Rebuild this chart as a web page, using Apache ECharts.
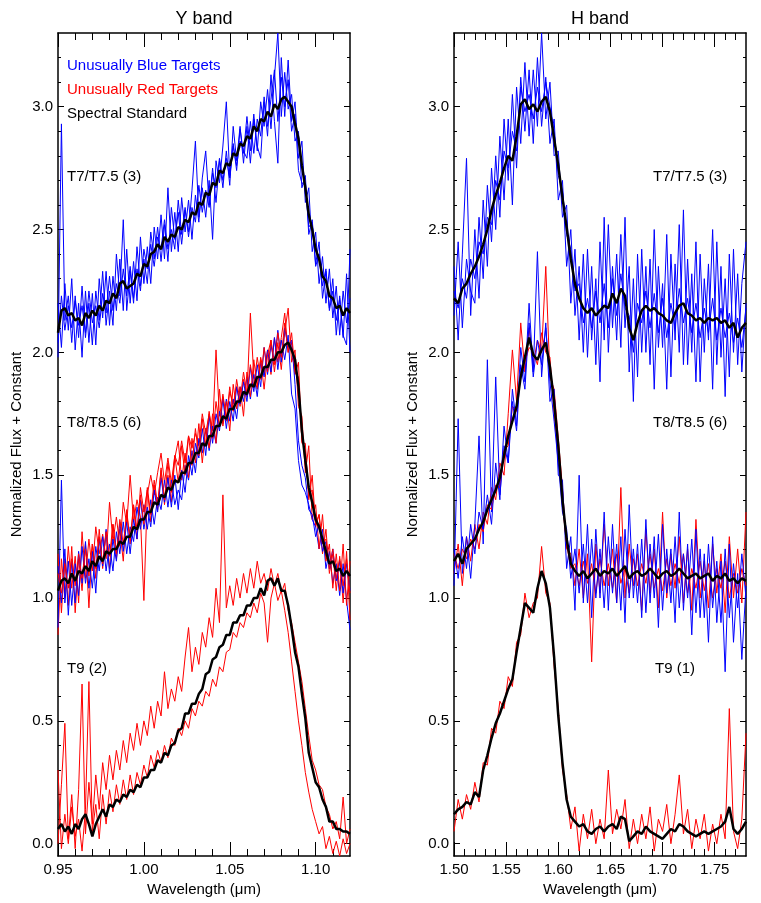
<!DOCTYPE html>
<html><head><meta charset="utf-8">
<script src="https://cdn.jsdelivr.net/npm/echarts@6/dist/echarts.min.js"></script>
<style>html,body{margin:0;padding:0;background:#fff}#c{width:761px;height:903px}</style>
</head><body><div id="c"></div>
<script>
// ---- wavelength grids (microns) ----
const yWave=[0.950,0.952,0.954,0.956,0.958,0.960,0.962,0.964,0.966,0.968,
0.970,0.972,0.974,0.976,0.978,0.980,0.982,0.984,0.986,0.988,
0.990,0.992,0.994,0.996,0.998,1.000,1.002,1.004,1.006,1.008,
1.010,1.012,1.014,1.016,1.018,1.020,1.022,1.024,1.026,1.028,
1.030,1.032,1.034,1.036,1.038,1.040,1.042,1.044,1.046,1.048,
1.050,1.052,1.054,1.056,1.058,1.060,1.062,1.064,1.066,1.068,
1.070,1.072,1.074,1.076,1.078,1.080,1.082,1.084,1.086,1.088,
1.090,1.092,1.094,1.096,1.098,1.100,1.102,1.104,1.106,1.108,
1.110,1.112,1.114,1.116,1.118,1.120];
const hWave=[1.500,1.504,1.508,1.512,1.516,1.520,1.524,1.528,1.532,1.536,
1.540,1.544,1.548,1.552,1.556,1.560,1.564,1.568,1.572,1.576,
1.580,1.584,1.588,1.592,1.596,1.600,1.604,1.608,1.612,1.616,
1.620,1.624,1.628,1.632,1.636,1.640,1.644,1.648,1.652,1.656,
1.660,1.664,1.668,1.672,1.676,1.680,1.684,1.688,1.692,1.696,
1.700,1.704,1.708,1.712,1.716,1.720,1.724,1.728,1.732,1.736,
1.740,1.744,1.748,1.752,1.756,1.760,1.764,1.768,1.772,1.776,
1.780];

// ---- Y band spectra ----
const yT7Std=[2.08,2.17,2.18,2.15,2.16,2.13,2.14,2.11,2.16,2.14,
2.17,2.15,2.19,2.17,2.21,2.20,2.24,2.22,2.28,2.29,
2.26,2.27,2.28,2.32,2.31,2.36,2.35,2.40,2.41,2.44,
2.42,2.47,2.45,2.48,2.47,2.51,2.50,2.54,2.53,2.57,
2.56,2.61,2.60,2.65,2.64,2.69,2.68,2.74,2.73,2.77,
2.76,2.81,2.80,2.85,2.84,2.88,2.87,2.92,2.90,2.95,
2.94,2.98,2.96,3.01,2.99,3.03,3.04,3.02,3.00,2.93,
2.87,2.76,2.67,2.56,2.50,2.42,2.38,2.31,2.29,2.23,
2.22,2.18,2.19,2.15,2.18,2.16];
const yT7Blue1=[1.98,2.93,2.13,2.23,2.04,2.23,2.06,2.27,2.06,2.20,
2.03,2.25,2.13,2.33,2.11,2.25,2.11,2.40,2.23,2.54,
2.17,2.33,2.20,2.43,2.27,2.38,2.28,2.49,2.38,2.51,
2.37,2.52,2.37,2.59,2.46,2.57,2.44,2.58,2.49,2.66,
2.86,2.55,2.67,2.55,2.70,2.46,2.78,2.69,2.84,3.02,
2.72,2.85,2.74,2.91,2.81,2.96,2.82,2.97,2.82,3.02,
2.92,3.07,2.91,3.12,3.30,2.96,3.14,2.99,3.05,2.86,
2.90,2.67,2.72,2.48,2.54,2.36,2.45,2.22,2.33,2.18,
2.30,2.07,2.23,2.06,2.32,2.00];
const yT7Blue2=[2.20,2.02,2.28,2.09,2.30,2.01,2.20,1.98,2.25,2.04,
2.24,2.03,2.30,2.14,2.33,2.11,2.31,2.17,2.38,2.17,
2.42,2.20,2.37,2.21,2.47,2.28,2.43,2.28,2.51,2.38,
2.56,2.38,2.67,2.41,2.57,2.41,2.63,2.49,2.62,2.46,
2.64,2.53,2.71,2.82,2.60,2.75,2.61,2.78,2.67,2.82,
2.68,2.92,2.78,2.92,2.77,2.92,2.77,2.95,2.84,2.79,
3.02,2.88,3.13,2.94,2.77,3.20,2.96,3.19,2.94,3.02,
2.79,2.86,2.61,2.67,2.41,2.49,2.28,2.39,2.20,2.34,
2.14,2.27,2.07,2.25,2.12,2.22];
const yT7Blue3=[2.04,2.23,2.09,2.19,2.10,2.21,2.11,2.19,2.08,2.25,
2.12,2.19,2.10,2.24,2.16,2.31,2.17,2.28,2.20,2.34,
2.23,2.35,2.22,2.34,2.25,2.42,2.34,2.44,2.35,2.47,
2.42,2.54,2.42,2.50,2.42,2.62,2.48,2.59,2.47,2.59,
2.53,2.68,2.57,2.66,2.59,2.73,2.67,2.79,2.70,2.79,
2.71,2.84,2.76,2.86,2.82,2.79,2.94,2.81,2.95,2.88,
3.04,2.92,3.03,3.15,2.94,3.12,3.00,3.11,2.90,2.97,
2.74,2.69,2.68,2.51,2.53,2.35,2.40,2.27,2.34,2.17,
2.25,2.13,2.22,2.07,2.03,2.42];
const yT8Std=[1.03,1.07,1.08,1.06,1.10,1.07,1.11,1.10,1.13,1.11,
1.15,1.13,1.17,1.15,1.19,1.18,1.20,1.20,1.23,1.22,
1.25,1.25,1.29,1.28,1.32,1.32,1.35,1.35,1.39,1.38,
1.42,1.41,1.45,1.44,1.48,1.47,1.51,1.51,1.55,1.55,
1.59,1.59,1.63,1.62,1.66,1.66,1.70,1.70,1.74,1.73,
1.77,1.77,1.80,1.80,1.84,1.83,1.87,1.86,1.90,1.90,
1.94,1.94,1.97,1.97,2.00,2.00,2.03,2.04,2.01,1.97,
1.86,1.68,1.56,1.45,1.39,1.32,1.29,1.24,1.19,1.14,
1.15,1.11,1.12,1.09,1.11,1.09];
const yT8Red1=[0.85,1.16,1.00,1.21,1.04,1.17,0.98,1.27,1.08,1.24,
1.11,1.29,1.18,1.26,1.16,1.39,1.23,1.33,1.21,1.39,
1.30,1.50,1.31,1.40,1.33,0.99,1.42,1.50,1.42,1.51,
1.59,1.47,1.57,1.47,1.58,1.54,1.64,1.55,1.66,1.61,
1.67,1.62,1.75,1.67,1.75,1.68,2.01,1.74,1.82,1.72,
1.84,1.79,1.86,1.78,1.89,1.82,2.16,1.90,1.85,1.98,
1.91,2.01,1.91,2.06,1.96,2.06,2.16,2.00,2.04,1.91,
1.96,1.63,1.63,1.40,1.50,1.29,1.34,1.18,1.28,1.10,
1.18,1.03,1.17,0.98,1.19,0.91];
const yT8Red2=[1.18,0.94,1.16,0.97,1.21,0.94,1.16,1.03,1.22,0.96,
1.22,1.08,1.28,1.12,1.27,1.12,1.30,1.16,1.28,1.15,
1.36,1.22,1.37,1.24,1.45,1.35,1.44,1.31,1.46,1.36,
1.53,1.38,1.50,1.39,1.57,1.64,1.48,1.59,1.49,1.65,
1.55,1.71,1.55,1.69,1.61,1.75,1.63,1.85,1.70,1.80,
1.68,1.87,1.77,1.86,1.74,1.92,1.82,1.97,1.86,1.97,
1.85,1.99,2.05,1.92,2.04,1.93,2.08,2.18,1.96,2.01,
1.78,1.74,1.51,1.62,1.32,1.38,1.20,1.34,1.15,1.22,
1.04,1.18,1.03,1.22,0.97,1.15];
const yT8Red3=[1.10,1.02,1.14,1.04,1.16,1.05,1.18,1.08,1.20,1.09,
1.22,1.12,1.25,1.14,1.27,1.17,1.30,1.18,1.32,1.22,
1.34,1.24,1.38,1.28,1.42,1.30,1.45,1.34,1.48,1.38,
1.52,1.40,1.55,1.43,1.58,1.47,1.62,1.50,1.66,1.54,
1.69,1.58,1.73,1.62,1.76,1.65,1.80,1.70,1.83,1.73,
1.86,1.76,1.89,1.80,1.92,1.83,1.95,1.86,1.98,1.89,
2.02,1.92,2.05,1.95,2.08,1.98,2.12,2.00,2.08,1.92,
1.90,1.64,1.60,1.42,1.44,1.30,1.34,1.22,1.24,1.12,
1.20,1.08,1.16,1.05,1.16,1.02];
const yT8Blue1=[0.88,1.48,0.98,1.15,0.97,1.14,1.01,1.21,1.06,1.16,
1.04,1.21,1.11,1.25,1.11,1.22,1.11,1.27,1.18,1.31,
1.18,1.29,1.23,1.37,1.28,1.38,1.28,1.40,1.30,1.41,
1.36,1.48,1.37,1.48,1.38,1.44,1.40,1.54,1.48,1.60,
1.51,1.65,1.59,1.69,1.60,1.70,1.63,1.76,1.71,1.81,
1.72,1.81,1.73,1.86,1.80,1.90,1.81,1.91,1.82,1.96,
1.90,2.01,1.92,2.06,1.93,2.05,1.97,2.07,1.83,1.77,
1.56,1.46,1.43,1.38,1.32,1.29,1.20,1.28,1.12,1.19,
1.06,1.14,1.01,1.14,0.99,0.87];
const yT8Blue2=[1.13,0.98,1.20,0.93,1.15,0.98,1.19,1.06,1.23,1.04,
1.19,1.02,1.24,1.13,1.28,1.10,1.24,1.15,1.31,1.19,
1.31,1.18,1.32,1.24,1.40,1.28,1.37,1.29,1.44,1.35,
1.49,1.39,1.49,1.37,1.50,1.36,1.52,1.43,1.58,1.50,
1.63,1.57,1.69,1.58,1.74,1.63,1.75,1.68,1.81,1.69,
1.80,1.72,1.86,1.79,1.88,1.80,1.94,1.84,1.95,1.86,
2.02,1.91,2.03,1.96,2.09,1.96,2.10,2.02,2.05,1.87,
1.64,1.54,1.49,1.36,1.34,1.25,1.30,1.19,1.23,1.12,
1.20,1.07,1.15,1.02,1.14,1.03];
const yT9Std=[0.06,0.08,0.05,0.07,0.04,0.08,0.06,0.10,0.12,0.08,
0.03,0.08,0.11,0.14,0.11,0.16,0.15,0.18,0.17,0.20,
0.19,0.22,0.21,0.24,0.23,0.27,0.27,0.30,0.30,0.34,
0.33,0.37,0.36,0.40,0.41,0.46,0.47,0.53,0.53,0.57,
0.57,0.61,0.63,0.69,0.70,0.75,0.76,0.80,0.81,0.85,
0.85,0.90,0.90,0.93,0.93,0.97,0.97,1.00,1.00,1.04,
1.01,1.07,1.08,1.05,1.08,1.03,1.03,0.97,0.88,0.78,
0.72,0.61,0.51,0.37,0.31,0.25,0.23,0.18,0.15,0.09,
0.09,0.06,0.06,0.05,0.05,0.04];
const yT9Red1=[0.00,0.24,0.49,0.02,0.20,-0.02,0.22,0.65,0.04,0.25,
0.08,0.28,0.14,0.33,0.22,0.36,0.26,0.38,0.30,0.42,
0.33,0.45,0.38,0.49,0.40,0.50,0.44,0.56,0.47,0.58,
0.52,0.70,0.55,0.63,0.58,0.68,0.62,0.76,0.88,0.70,
0.80,0.73,0.86,0.80,0.92,0.84,1.04,0.90,1.42,0.96,
1.05,0.97,1.08,1.00,1.10,1.02,1.12,1.04,1.15,1.06,
1.10,1.03,1.12,1.05,1.10,1.02,1.06,0.95,0.90,0.82,
0.74,0.66,0.55,0.44,0.34,0.30,0.24,0.22,0.15,0.12,
0.06,0.09,0.02,0.19,0.00,0.06];
const yT9Red2=[0.30,-0.02,0.12,0.00,0.15,0.03,0.10,-0.03,0.14,0.66,
0.05,0.16,0.02,0.20,0.08,0.22,0.13,0.24,0.16,0.26,
0.18,0.28,0.20,0.29,0.24,0.32,0.27,0.36,0.31,0.38,
0.33,0.40,0.35,0.43,0.40,0.47,0.44,0.50,0.47,0.55,
0.52,0.58,0.56,0.62,0.60,0.67,0.64,0.72,0.70,0.78,
0.79,0.86,0.84,0.90,0.88,0.94,0.92,0.98,0.94,1.02,
0.98,0.82,1.00,1.06,0.99,1.03,0.95,0.86,0.74,0.62,
0.50,0.40,0.29,0.21,0.14,0.09,0.04,0.07,-0.02,0.03,
-0.04,0.01,-0.05,0.02,-0.04,0.00];

// ---- H band spectra ----
const hT7Std=[2.22,2.20,2.26,2.28,2.32,2.35,2.39,2.44,2.50,2.58,
2.64,2.69,2.75,2.80,2.78,2.88,3.01,3.03,2.99,3.01,
2.98,3.02,3.04,2.98,2.87,2.76,2.63,2.51,2.38,2.28,
2.22,2.18,2.16,2.18,2.15,2.17,2.19,2.18,2.24,2.20,
2.26,2.23,2.10,2.05,2.12,2.17,2.19,2.17,2.18,2.16,
2.15,2.13,2.12,2.16,2.19,2.20,2.16,2.15,2.13,2.14,
2.12,2.14,2.13,2.14,2.12,2.13,2.10,2.12,2.06,2.10,
2.12];
const hT7Blue1=[2.35,2.05,2.40,2.79,2.15,2.50,2.22,2.62,2.35,2.75,
2.50,2.88,2.62,2.95,2.60,3.08,2.85,3.18,2.88,3.15,
2.92,3.30,2.95,3.10,2.80,2.82,2.55,2.60,2.20,2.42,
2.05,2.40,1.98,2.35,1.95,2.45,2.05,2.52,2.10,2.40,
2.02,2.55,1.92,2.30,1.90,2.42,2.00,2.38,1.85,2.35,
2.02,2.48,1.90,2.36,2.00,2.58,1.95,2.32,1.88,2.40,
2.00,2.36,1.85,2.45,1.98,2.30,1.90,2.42,1.95,2.28,
2.45];
const hT7Blue2=[2.15,2.45,2.10,2.38,2.25,2.20,2.55,2.30,2.68,2.45,
2.80,2.55,2.95,2.70,3.05,2.75,3.12,2.90,3.15,2.85,
3.20,2.92,3.12,2.85,2.95,2.62,2.70,2.35,2.50,2.15,
2.35,2.00,2.42,2.05,2.30,1.88,2.55,2.00,2.35,2.05,
2.48,2.10,2.35,1.80,2.40,2.00,2.35,1.95,2.50,2.02,
2.28,1.85,2.40,2.05,2.52,1.95,2.38,2.00,2.45,1.88,
2.30,2.05,2.50,1.95,2.35,1.82,2.40,2.00,2.32,1.92,
2.20];
const hT7Blue3=[2.25,2.18,2.30,2.22,2.38,2.30,2.45,2.40,2.55,2.52,
2.70,2.62,2.82,2.75,2.90,2.82,3.08,2.98,3.05,2.95,
3.08,2.98,3.10,3.00,2.90,2.72,2.66,2.48,2.42,2.25,
2.28,2.12,2.22,2.10,2.25,2.12,2.28,2.10,2.30,2.15,
2.32,2.18,2.15,2.00,2.20,2.12,2.25,2.10,2.24,2.08,
2.22,2.06,2.20,2.10,2.26,2.12,2.22,2.08,2.20,2.06,
2.18,2.08,2.22,2.05,2.18,2.06,2.16,2.04,2.14,2.02,
2.18];
const hT8Std=[1.15,1.18,1.14,1.20,1.22,1.24,1.28,1.31,1.36,1.40,
1.44,1.49,1.58,1.66,1.72,1.78,1.90,1.98,2.06,1.99,
1.97,2.01,2.04,1.94,1.80,1.62,1.40,1.24,1.14,1.11,
1.09,1.11,1.08,1.10,1.12,1.09,1.11,1.10,1.12,1.09,
1.11,1.13,1.08,1.10,1.11,1.09,1.10,1.12,1.10,1.08,
1.10,1.11,1.09,1.10,1.12,1.10,1.08,1.09,1.10,1.08,
1.09,1.10,1.07,1.09,1.08,1.10,1.07,1.08,1.06,1.08,
1.07];
const hT8Blue1=[1.05,1.73,1.10,1.25,1.08,1.30,1.66,1.22,1.97,1.35,
1.90,1.42,1.62,1.55,1.85,1.70,2.02,1.88,2.20,1.92,
2.41,1.90,2.12,1.80,1.85,1.50,1.48,1.12,1.25,0.95,
1.50,0.98,1.30,0.92,1.28,1.00,1.35,0.95,1.30,0.98,
1.25,0.90,1.38,1.00,1.22,0.92,1.32,0.98,1.25,0.88,
1.30,1.02,1.20,0.90,1.35,0.95,1.22,0.85,1.28,0.92,
1.18,0.82,1.25,0.90,1.15,0.70,1.22,0.82,1.10,0.75,
1.05];
const hT8Blue2=[1.20,1.08,1.25,1.12,1.30,1.18,1.35,1.28,1.42,1.30,
1.55,1.40,1.70,1.55,1.80,1.68,1.95,1.85,2.12,1.90,
2.05,1.95,2.10,1.88,1.72,1.55,1.35,1.28,1.08,1.20,
1.02,1.22,0.98,1.24,1.00,1.20,0.96,1.25,1.02,1.22,
0.95,1.28,1.00,1.20,0.98,1.24,0.94,1.22,1.00,1.26,
0.95,1.20,0.98,1.25,0.96,1.18,1.00,1.24,0.94,1.20,
0.92,1.22,0.96,1.15,0.90,1.20,0.92,1.14,0.96,1.18,
1.00];
const hT8Red1=[1.10,1.22,1.05,1.25,1.15,1.30,1.20,1.35,1.30,1.45,
1.40,1.55,1.50,1.75,2.01,1.80,2.12,1.92,2.10,1.95,
2.05,2.00,2.35,1.90,1.85,1.65,1.45,1.20,1.18,1.05,
1.20,1.00,1.18,0.74,1.22,1.02,1.30,1.05,1.20,0.98,
1.45,1.00,1.22,1.05,1.18,0.95,1.28,1.02,1.20,0.96,
1.35,1.00,1.18,1.04,1.25,0.98,1.20,0.95,1.32,1.00,
1.15,0.96,1.22,1.02,1.18,0.94,1.25,1.00,1.20,0.98,
1.35];
const hT8Red2=[1.18,1.12,1.20,1.16,1.24,1.20,1.30,1.27,1.38,1.36,
1.46,1.45,1.60,1.62,1.78,1.76,1.92,1.96,2.02,2.00,
1.95,2.08,2.00,1.98,1.75,1.60,1.38,1.22,1.12,1.14,
1.05,1.15,1.06,1.14,1.02,1.16,1.05,1.14,1.04,1.18,
1.06,1.12,1.02,1.16,1.05,1.14,1.06,1.18,1.04,1.12,
1.03,1.16,1.05,1.14,1.06,1.18,1.02,1.12,1.04,1.15,
1.03,1.14,1.00,1.12,1.04,1.15,1.00,1.10,1.02,1.12,
1.05];
const hT9Std=[0.12,0.14,0.15,0.17,0.16,0.21,0.19,0.30,0.36,0.43,
0.49,0.53,0.58,0.63,0.67,0.78,0.88,0.98,0.96,0.94,
1.04,1.11,1.06,0.96,0.76,0.52,0.33,0.18,0.11,0.09,
0.07,0.08,0.05,0.04,0.06,0.07,0.05,0.07,0.08,0.06,
0.11,0.10,0.01,0.03,0.05,0.04,0.07,0.05,0.04,0.03,
0.02,0.04,0.06,0.05,0.08,0.07,0.05,0.04,0.03,0.04,
0.05,0.04,0.05,0.06,0.07,0.09,0.15,0.06,0.04,0.06,
0.09];
const hT9Red=[0.05,0.18,0.10,0.20,0.14,0.25,0.17,0.33,0.32,0.47,
0.45,0.58,0.55,0.68,0.64,0.82,0.85,1.02,0.92,0.98,
1.00,1.21,1.02,0.98,0.72,0.55,0.30,0.20,0.06,0.15,
-0.03,0.12,0.02,0.14,0.00,0.10,0.02,0.30,0.04,0.14,
0.06,0.18,-0.02,0.10,0.00,0.12,0.02,0.15,-0.03,0.10,
0.05,0.16,0.00,0.12,0.28,0.04,0.14,-0.02,0.10,0.02,
0.12,-0.03,0.08,0.00,0.12,0.02,0.55,0.05,-0.02,0.10,
0.45];

// ---- tick values ----
const yBandMajor=[0.95,1.00,1.05,1.10];
const yBandMinor=[0.96,0.97,0.98,0.99,1.01,1.02,1.03,1.04,1.06,1.07,1.08,1.09,1.11];
const hBandMajor=[1.50,1.55,1.60,1.65,1.70,1.75];
const hBandMinor=[1.51,1.52,1.53,1.54,1.56,1.57,1.58,1.59,1.61,1.62,1.63,1.64,1.66,1.67,1.68,1.69,1.71,1.72,1.73,1.74,1.76,1.77];
const fluxMajor=[0,0.5,1.0,1.5,2.0,2.5,3.0];
const fluxMinor=[0.1,0.2,0.3,0.4,0.6,0.7,0.8,0.9,1.1,1.2,1.3,1.4,1.6,1.7,1.8,1.9,2.1,2.2,2.3,2.4,2.6,2.7,2.8,2.9,3.1,3.2];

const FONT='"Liberation Sans", Arial, Helvetica, sans-serif';
const BLUE='#0000ff', RED='#ff0000', BLACK='#000000';

function pairs(w,v){return w.map((x,i)=>[x,v[i]]);}
function tick(vals,len){return {show:true,inside:true,length:len,customValues:vals,lineStyle:{color:'#000',width:1}};}
const lineOn={show:true,onZero:false,lineStyle:{color:'#000',width:1.5}};
const lineOff={show:false,onZero:false};

function xAxes(g,min,max,major,minor){
  const b={type:'value',gridIndex:g,min:min,max:max,splitLine:{show:false},axisLabel:{show:false}};
  return [
    Object.assign({},b,{position:'bottom',axisLine:lineOn,axisTick:tick(major,14),
      axisLabel:{show:true,customValues:major,formatter:v=>Number(v).toFixed(2),color:'#000',fontSize:15,fontFamily:FONT,margin:6},
      name:'Wavelength (μm)',nameLocation:'middle',nameGap:22,nameTextStyle:{color:'#000',fontSize:15,fontFamily:FONT}}),
    Object.assign({},b,{position:'bottom',axisLine:lineOff,axisTick:tick(minor,7)}),
    Object.assign({},b,{position:'top',axisLine:lineOn,axisTick:tick(major,14)}),
    Object.assign({},b,{position:'top',axisLine:lineOff,axisTick:tick(minor,7)})
  ];
}
function yAxes(g){
  const b={type:'value',gridIndex:g,min:-0.05,max:3.3,splitLine:{show:false},axisLabel:{show:false}};
  return [
    Object.assign({},b,{position:'left',axisLine:lineOn,axisTick:tick(fluxMajor,6),
      axisLabel:{show:true,customValues:fluxMajor,formatter:v=>Number(v).toFixed(1),color:'#000',fontSize:15,fontFamily:FONT,margin:5},
      name:'Normalized Flux + Constant',nameLocation:'middle',nameGap:34,nameRotate:90,nameTextStyle:{color:'#000',fontSize:15,fontFamily:FONT}}),
    Object.assign({},b,{position:'left',axisLine:lineOff,axisTick:tick(fluxMinor,3)}),
    Object.assign({},b,{position:'right',axisLine:lineOn,axisTick:tick(fluxMajor,6)}),
    Object.assign({},b,{position:'right',axisLine:lineOff,axisTick:tick(fluxMinor,3)})
  ];
}
function ser(g,w,v,color,width,z){
  return {type:'line',xAxisIndex:g*4,yAxisIndex:g*4,data:pairs(w,v),symbol:'none',showSymbol:false,
    lineStyle:{color:color,width:width},itemStyle:{color:color},silent:true,z:z,clip:true};
}
function txt(x,y,s,color,size,align){
  return {type:'text',x:x,y:y,z:100,silent:true,style:{text:s,fill:color,font:size+'px '+FONT,
    textAlign:align||'left',textVerticalAlign:'middle',align:align||'left',verticalAlign:'middle'}};
}

const series=[
  ser(0,yWave,yT7Blue1,BLUE,1,2),ser(0,yWave,yT7Blue2,BLUE,1,2),ser(0,yWave,yT7Blue3,BLUE,1,2),
  ser(0,yWave,yT7Std,BLACK,2.5,5),
  ser(0,yWave,yT8Red1,RED,1,2),ser(0,yWave,yT8Blue1,BLUE,1,2),ser(0,yWave,yT8Red2,RED,1,2),
  ser(0,yWave,yT8Blue2,BLUE,1,2),ser(0,yWave,yT8Red3,RED,1,2),
  ser(0,yWave,yT8Std,BLACK,2.5,5),
  ser(0,yWave,yT9Red1,RED,1,2),ser(0,yWave,yT9Red2,RED,1,2),
  ser(0,yWave,yT9Std,BLACK,2.5,5),
  ser(1,hWave,hT7Blue1,BLUE,1,2),ser(1,hWave,hT7Blue2,BLUE,1,2),ser(1,hWave,hT7Blue3,BLUE,1,2),
  ser(1,hWave,hT7Std,BLACK,2.5,5),
  ser(1,hWave,hT8Red1,RED,1,2),ser(1,hWave,hT8Blue1,BLUE,1,2),ser(1,hWave,hT8Red2,RED,1,2),ser(1,hWave,hT8Blue2,BLUE,1,2),
  ser(1,hWave,hT8Std,BLACK,2.5,5),
  ser(1,hWave,hT9Red,RED,1,2),
  ser(1,hWave,hT9Std,BLACK,2.5,5)
];

const chart=echarts.init(document.getElementById('c'),null,{renderer:'canvas'});
chart.setOption({
  animation:false,
  backgroundColor:'#ffffff',
  grid:[
    {left:58,top:33,width:292,height:823,containLabel:false,outerBoundsMode:'none'},
    {left:454,top:33,width:292,height:823,containLabel:false,outerBoundsMode:'none'}
  ],
  xAxis:[].concat(xAxes(0,0.95,1.12,yBandMajor,yBandMinor),xAxes(1,1.50,1.78,hBandMajor,hBandMinor)),
  yAxis:[].concat(yAxes(0),yAxes(1)),
  series:series,
  graphic:[
    txt(204,19,'Y band','#000',18,'center'),
    txt(600,19,'H band','#000',18,'center'),
    txt(67,66,'Unusually Blue Targets',BLUE,15),
    txt(67,90,'Unusually Red Targets',RED,15),
    txt(67,114,'Spectral Standard','#000',15),
    txt(67,177,'T7/T7.5 (3)','#000',15),
    txt(67,423,'T8/T8.5 (6)','#000',15),
    txt(67,669,'T9 (2)','#000',15),
    txt(653,177,'T7/T7.5 (3)','#000',15),
    txt(653,423,'T8/T8.5 (6)','#000',15),
    txt(655,669,'T9 (1)','#000',15)
  ]
});
</script></body></html>
